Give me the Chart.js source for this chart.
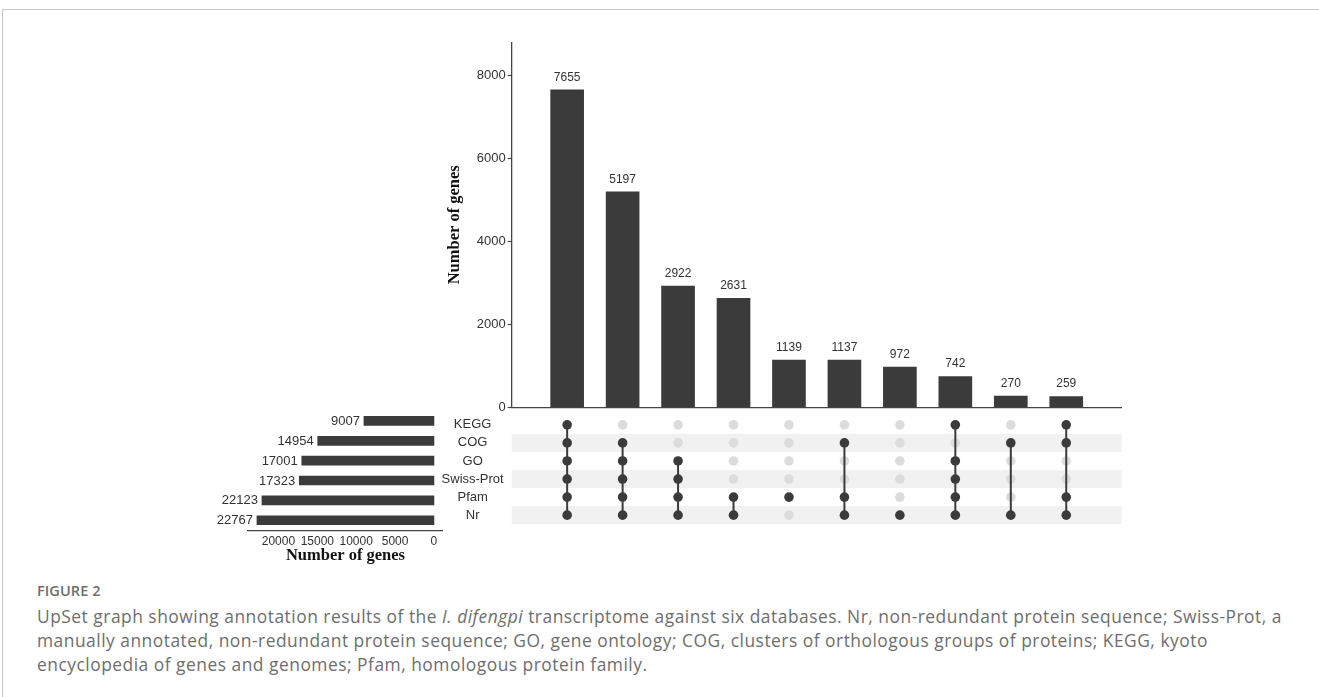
<!DOCTYPE html>
<html>
<head>
<meta charset="utf-8">
<script src="https://cdn.jsdelivr.net/npm/chart.js@4.4.1/dist/chart.umd.min.js"></script>
<style>
  html, body { margin: 0; padding: 0; background: #fff; }
  #page { position: relative; width: 1319px; height: 697px; overflow: hidden; background: #fff; }
  #frame { position: absolute; left: 2px; top: 9px; right: -2px; bottom: -2px;
           border-top: 1px solid #c9c9c9; border-left: 1px solid #c9c9c9; }
  canvas { position: absolute; }
  #cv-bars { left: 430px; top: 30px; }
  #cv-sets { left: 200px; top: 400px; }
  #cv-matrix { left: 430px; top: 400px; }
  .caption { position: absolute; left: 37px; font-family: "Open Sans", "Noto Sans", sans-serif; color: #6e6e6e; white-space: nowrap; }
  #fig-label { top: 581px; font-size: 14.5px; font-weight: 600; letter-spacing: 0.1px; }
  #fig-text { top: 604px; font-size: 17.4px; line-height: 24px; letter-spacing: 0.5px; }
</style>
</head>
<body>
<div id="page">
  <div id="frame"></div>
  <canvas id="cv-bars" width="720" height="400"></canvas>
  <canvas id="cv-sets" width="260" height="170"></canvas>
  <canvas id="cv-matrix" width="720" height="140"></canvas>
  <div class="caption" id="fig-label">FIGURE 2</div>
  <div class="caption" id="fig-text">UpSet graph showing annotation results of the <i>I. difengpi</i> transcriptome against six databases. Nr, non-redundant protein sequence; Swiss-Prot, a<br>manually annotated, non-redundant protein sequence; GO, gene ontology; COG, clusters of orthologous groups of proteins; KEGG, kyoto<br>encyclopedia of genes and genomes; Pfam, homologous protein family.</div>
</div>
<script>
// Databases (matrix rows, top to bottom) and their annotated gene counts
const sets = ['KEGG', 'COG', 'GO', 'Swiss-Prot', 'Pfam', 'Nr'];
const setSizes = [9007, 14954, 17001, 17323, 22123, 22767];

// Intersections, ordered by size, and the databases each one contains
const intersectionSizes = [7655, 5197, 2922, 2631, 1139, 1137, 972, 742, 270, 259];
const intersectionMembers = [
  ['KEGG', 'COG', 'GO', 'Swiss-Prot', 'Pfam', 'Nr'],
  ['COG', 'GO', 'Swiss-Prot', 'Pfam', 'Nr'],
  ['GO', 'Swiss-Prot', 'Pfam', 'Nr'],
  ['Pfam', 'Nr'],
  ['Pfam'],
  ['COG', 'Pfam', 'Nr'],
  ['Nr'],
  ['KEGG', 'GO', 'Swiss-Prot', 'Pfam', 'Nr'],
  ['COG', 'Nr'],
  ['KEGG', 'COG', 'Pfam', 'Nr']
];

// Axis tick values
const countTicks = [0, 2000, 4000, 6000, 8000];
const setSizeTicks = [0, 5000, 10000, 15000, 20000];

const DARK = '#3b3b3b';
const AXIS = '#454545';
const TEXT = '#333333';
const sans = 'Liberation Sans, Arial, sans-serif';
const serif = 'Liberation Serif, Times New Roman, serif';
const plain = v => String(v);

Chart.defaults.font.family = sans;
Chart.defaults.color = TEXT;
Chart.defaults.animation = false;
Chart.defaults.plugins.legend.display = false;
Chart.defaults.plugins.tooltip.enabled = false;

// Writes each bar's value next to it
const valueLabels = {
  id: 'valueLabels',
  afterDatasetsDraw(chart, args, opts) {
    const { ctx } = chart;
    const meta = chart.getDatasetMeta(0);
    const ds = chart.data.datasets[0].data;
    ctx.save();
    ctx.font = opts.font;
    ctx.fillStyle = TEXT;
    meta.data.forEach((el, i) => {
      const raw = ds[i];
      const v = typeof raw === 'object' ? raw.y : raw;
      ctx.textBaseline = 'middle';
      if (opts.side === 'top') {
        ctx.textAlign = 'center';
        ctx.fillText(String(v), el.x, el.y - 12.5);
      } else {
        ctx.textAlign = 'right';
        ctx.fillText(String(v), el.x - 4, el.y + 0.5);
      }
    });
    ctx.restore();
  }
};

// Alternating light bands behind the matrix rows
const rowBands = {
  id: 'rowBands',
  beforeDatasetsDraw(chart) {
    const { ctx, chartArea } = chart;
    const ys = chart.scales.y;
    const h = (ys.bottom - ys.top) / sets.length;
    ctx.save();
    ctx.fillStyle = '#f1f1f1';
    sets.forEach((s, i) => {
      if (i % 2 === 1) {
        const c = ys.getPixelForValue(i);
        ctx.fillRect(chartArea.left, c - h / 2, chartArea.right - chartArea.left, h);
      }
    });
    ctx.restore();
  }
};

const nCols = intersectionSizes.length;

// Intersection size bars
new Chart(document.getElementById('cv-bars'), {
  type: 'bar',
  data: {
    datasets: [{
      data: intersectionSizes.map((v, i) => ({ x: i + 1, y: v })),
      backgroundColor: DARK,
      barThickness: 33
    }]
  },
  options: {
    responsive: false,
    layout: { padding: { left: 10, top: 12.3, right: 28.3, bottom: 22.7 } },
    scales: {
      x: {
        type: 'linear', min: 0, max: nCols + 1, offset: false,
        ticks: { display: false },
        grid: { display: false, drawTicks: false },
        border: { display: true, color: AXIS, width: 1.3 },
        afterFit(s) { s.height = 0; }
      },
      y: {
        min: 0, max: Math.max(...intersectionSizes) * 1.15,
        afterBuildTicks(s) { s.ticks = countTicks.map(v => ({ value: v })); },
        ticks: { font: { size: 13 }, color: TEXT, padding: 2, callback: plain },
        grid: { display: true, drawOnChartArea: false, drawTicks: true, tickLength: 4, color: AXIS, tickWidth: 1.2 },
        border: { display: true, color: AXIS, width: 1.3 },
        title: { display: true, text: 'Number of genes', font: { family: serif, size: 16.5, weight: 'bold' }, color: '#111', padding: { top: 5, bottom: 0 } },
        afterFit(s) { s.width = 71.7; }
      }
    },
    plugins: { valueLabels: { side: 'top', font: '12px ' + sans } }
  },
  plugins: [valueLabels]
});

// Database size bars, growing to the left
const setPad = Math.max(...setSizes) * 0.05;
new Chart(document.getElementById('cv-sets'), {
  type: 'bar',
  data: {
    labels: sets,
    datasets: [{ data: setSizes, backgroundColor: DARK, barThickness: 9 }]
  },
  options: {
    responsive: false,
    indexAxis: 'y',
    layout: { padding: { left: 48.1, top: 11, right: 17.2, bottom: 4.8 } },
    scales: {
      x: {
        type: 'linear', reverse: true, min: -setPad, max: Math.max(...setSizes) + setPad,
        afterBuildTicks(s) { s.ticks = setSizeTicks.map(v => ({ value: v })); },
        ticks: { font: { size: 12 }, color: TEXT, padding: 4, maxRotation: 0, autoSkip: false, callback: plain },
        grid: { display: false, drawTicks: false },
        border: { display: true, color: AXIS, width: 1.3 },
        title: { display: true, text: 'Number of genes', font: { family: serif, size: 16.5, weight: 'bold' }, color: '#111', padding: 0 },
        afterFit(s) { s.height = 35; }
      },
      y: { display: false }
    },
    plugins: { valueLabels: { side: 'left', font: '13px ' + sans } }
  },
  plugins: [valueLabels]
});

// Membership matrix: grey dots for absent databases, linked dark dots for present ones
const absent = [];
intersectionMembers.forEach((m, c) => {
  sets.forEach(s => { if (!m.includes(s)) absent.push({ x: c + 1, y: s }); });
});
const combos = intersectionMembers.map((m, c) => ({
  data: sets.filter(s => m.includes(s)).map(s => ({ x: c + 1, y: s })),
  showLine: true,
  borderColor: DARK,
  borderWidth: 2,
  pointRadius: 4.8,
  pointBackgroundColor: DARK,
  pointBorderWidth: 0,
  order: 1
}));

new Chart(document.getElementById('cv-matrix'), {
  type: 'scatter',
  data: {
    datasets: [
      ...combos,
      { data: absent, pointRadius: 4.8, pointBackgroundColor: '#dcdcdc', pointBorderWidth: 0, showLine: false, order: 2 }
    ]
  },
  options: {
    responsive: false,
    layout: { padding: { left: 0, top: 11, right: 28.3, bottom: 9.8 } },
    scales: {
      x: { type: 'linear', min: 0, max: nCols + 1, display: false },
      y: {
        type: 'category', labels: sets, offset: true,
        ticks: { font: { size: 13 }, color: TEXT, crossAlign: 'center', padding: 8 },
        grid: { display: false, drawTicks: false },
        border: { display: false },
        afterFit(s) { s.width = 81.7; }
      }
    }
  },
  plugins: [rowBands]
});
</script>
</body>
</html>
